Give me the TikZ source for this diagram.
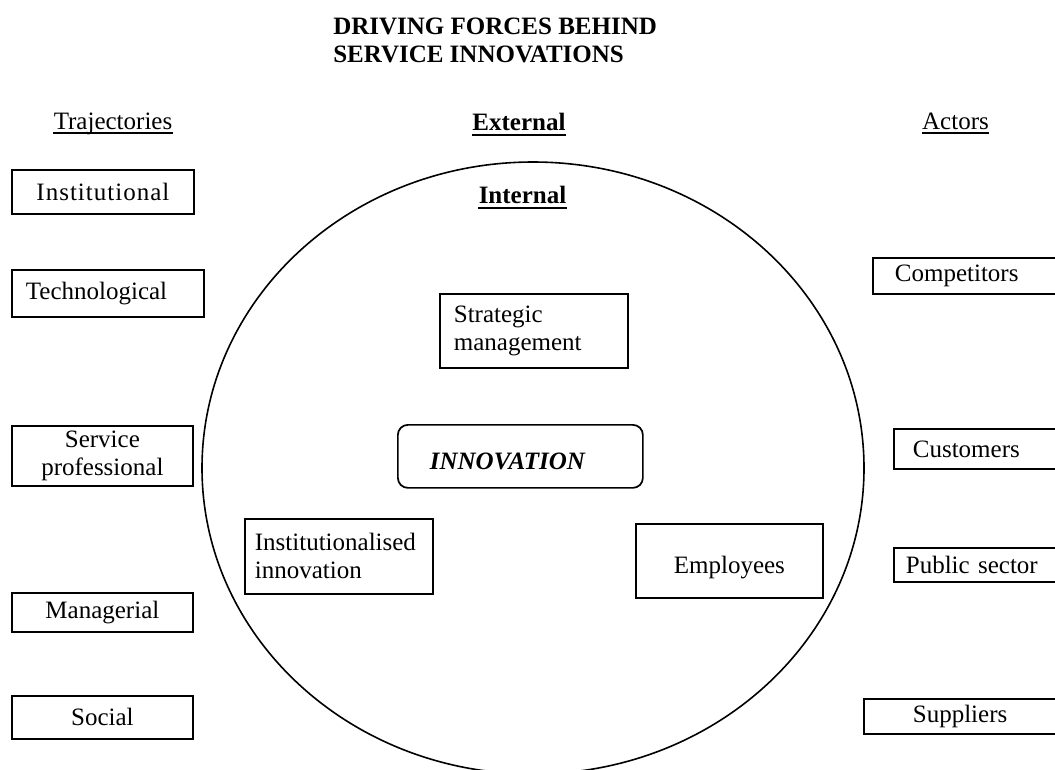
\documentclass[tikz,border=0pt]{standalone}
\usepackage{fontspec}
\setmainfont{Liberation Serif}
\newcommand\diagfont{\fontsize{18.75pt}{21pt}\selectfont}
\tikzset{
  box/.style={draw,line width=1.3pt,inner sep=0pt,anchor=north west,align=center},
  lbox/.style={box,align=left},
  head/.style={inner sep=0pt,anchor=base},
  bhead/.style={head,font=\diagfont\bfseries},
  uline/.style={line width=1.1pt},
  buline/.style={line width=2pt},
}
\begin{document}
\begin{tikzpicture}[x=0.75pt,y=-0.75pt,every node/.style={font=\diagfont}]
\useasboundingbox (0,0) rectangle (1055,769);
\node[inner sep=0pt,anchor=north west,align=left,font=\diagfont\bfseries] (title) at (333,18) {DRIVING FORCES BEHIND\\SERVICE INNOVATIONS};
\node[head] (traj) at (113,129) {Trajectories};
\node[bhead] (ext) at (519,130) {External};
\node[head] (actr) at (955.5,129) {Actors};
\node[bhead] (intl) at (522.5,203) {Internal};
\draw[uline] ([yshift=-3pt]traj.base west) -- ([yshift=-3pt]traj.base east);
\draw[uline] ([yshift=-3pt]actr.base west) -- ([yshift=-3pt]actr.base east);
\draw[buline] ([yshift=-3.8pt]ext.base west) -- ([yshift=-3.8pt]ext.base east);
\draw[buline] ([yshift=-3.8pt]intl.base west) -- ([yshift=-3.8pt]intl.base east);
\draw[line width=1.2pt] (533,468) ellipse [x radius=248.25pt, y radius=229.5pt];
% trajectories
\node[box,minimum width=136.5pt,minimum height=33pt] (inst) at (11,169) {\addfontfeature{LetterSpace=4}Institutional};
\node[lbox,text width=123pt,inner xsep=10.5pt,minimum height=35.25pt] (tech) at (11,269) {Technological};
\node[box,minimum width=135.75pt,minimum height=45pt] (serv) at (11,425) {Service\\professional};
\node[box,minimum width=135.75pt,minimum height=29.25pt] (mana) at (11,592) {Managerial};
\node[box,minimum width=135.75pt,minimum height=32.25pt] (soci) at (11,695) {Social};
% internal
\node[lbox,text width=120pt,inner xsep=10.5pt,minimum height=55.5pt] (stra) at (439,293) {Strategic\\management};
\node[lbox,rounded corners=7.5pt,text width=135.75pt,inner xsep=24pt,minimum height=47.25pt,text height=20pt,text depth=0pt,font=\diagfont\bfseries\itshape] (innov) at (397,424) {INNOVATION};
\node[lbox,text width=126pt,inner xsep=7.5pt,minimum height=56.25pt] (inin) at (244,518) {Institutionalised\\innovation};
\node[box,minimum width=140.25pt,minimum height=55.5pt,text height=19.5pt,text depth=0pt] (empl) at (635,523) {Employees};
% actors
\begin{scope}
\clip (0,0) rectangle (1055,769);
\node[lbox,text width=109.5pt,inner xsep=16.5pt,minimum height=27pt] (comp) at (872,257) {Competitors};
\node[lbox,text width=98.25pt,inner xsep=14.25pt,minimum height=30pt] (cust) at (893,428) {Customers};
\node[lbox,text width=108.75pt,inner xsep=9pt,minimum height=25.5pt] (publ) at (893,547) {Public sector};
\node[lbox,text width=75.75pt,inner xsep=36.75pt,minimum height=26.25pt] (supp) at (863,698) {Suppliers};
\end{scope}
\end{tikzpicture}
\end{document}
